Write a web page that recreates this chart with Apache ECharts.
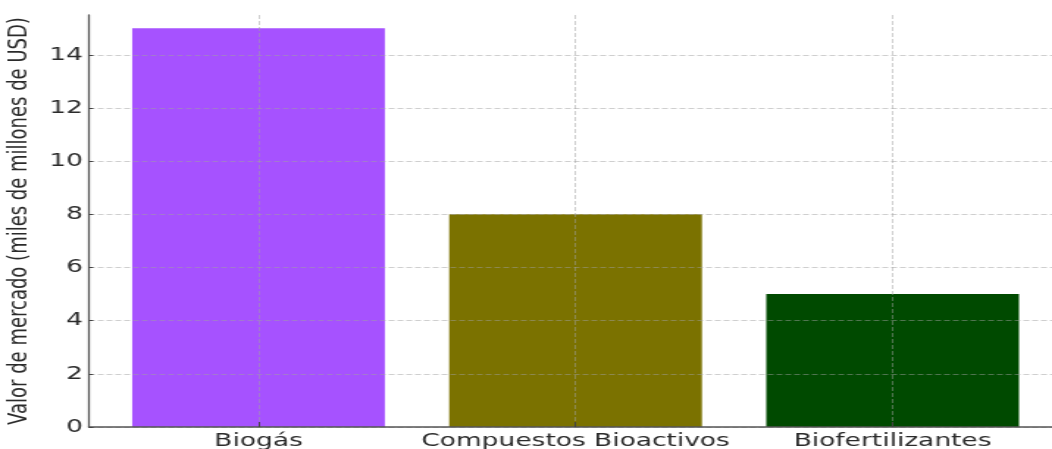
<!DOCTYPE html>
<html>
<head>
<meta charset="utf-8">
<script src="https://cdn.jsdelivr.net/npm/echarts@6/dist/echarts.min.js"></script>
<style>
    html, body { margin: 0; padding: 0; background: #fff; overflow: hidden; }
    /* la imagen original está estirada en horizontal: dibujamos a 716px y escalamos */
    #main { width: 716px; height: 449px; transform: scaleX(1.4693); transform-origin: 0 0; }
</style>
</head>
<body>
<div id="main"></div>
<script>
// categorías y valores
var categories = ['Biogás', 'Compuestos Bioactivos', 'Biofertilizantes'];
var values = [15, 8, 5];
var yTicks = [0, 2, 4, 6, 8, 10, 12, 14];
var barColors = ['#a652ff', '#7b7200', '#004a00'];

var gridLine = {
    show: true,
    lineStyle: {
        color: 'rgba(160, 160, 160, 0.5)',
        type: [4, 2],
        width: 1
    }
};

var chart = echarts.init(document.getElementById('main'));

var option = {
    animation: false,
    backgroundColor: '#fff',
    textStyle: {
        fontFamily: 'DejaVu Sans'
    },
    grid: {
        top: 15,
        left: 60.5,
        right: -8,
        bottom: 22,
        containLabel: false,
        outerBoundsMode: 'none'
    },
    // eje x numérico para controlar los márgenes como matplotlib
    xAxis: {
        type: 'value',
        z: 3,
        min: -0.535,
        max: 2.54,
        axisLine: {
            onZero: false,
            lineStyle: { color: '#555', width: 1.5 }
        },
        axisTick: {
            show: true,
            inside: true,
            length: 5,
            customValues: [0, 1, 2],
            lineStyle: { color: '#444', width: 1 }
        },
        axisLabel: {
            customValues: [0, 1, 2],
            margin: 5,
            fontSize: 18,
            color: '#2b2b2b',
            formatter: function (v) {
                return categories[v];
            }
        },
        splitLine: gridLine
    },
    yAxis: {
        type: 'value',
        z: 3,
        min: 0,
        max: 15.5,
        name: 'Valor de mercado (miles de millones de USD)',
        nameLocation: 'middle',
        nameGap: 25,
        nameTextStyle: {
            fontSize: 18,
            color: '#2b2b2b'
        },
        axisLine: {
            show: true,
            onZero: false,
            lineStyle: { color: '#555', width: 1.3 }
        },
        axisTick: {
            show: true,
            inside: true,
            length: 3,
            customValues: yTicks,
            lineStyle: { color: '#444', width: 1 }
        },
        axisLabel: {
            customValues: yTicks,
            margin: 4,
            fontSize: 18,
            color: '#2b2b2b'
        },
        splitLine: gridLine
    },
    series: [{
        type: 'bar',
        barWidth: 172,
        data: values.map(function (v, i) {
            return {
                value: [i, v],
                itemStyle: { color: barColors[i] }
            };
        })
    }]
};

chart.setOption(option);
</script>
</body>
</html>
